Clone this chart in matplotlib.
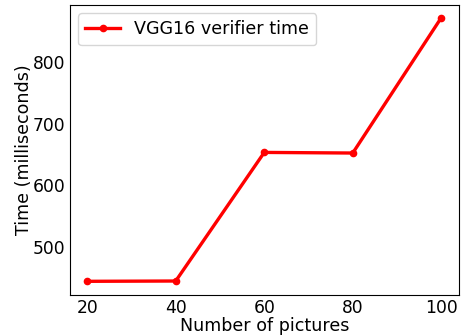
import matplotlib
matplotlib.use("Agg")
import matplotlib.pyplot as plt

pictures = [20, 40, 60, 80, 100]
verifier_time = [443.5, 444, 653.5, 652.5, 873]
series_label = "VGG16 verifier time"

fig = plt.figure(figsize=(4.66, 3.36), dpi=100)
ax = fig.add_axes([69.5/466, 1 - 294.5/336, (459-69.5)/466, (294.5-4.5)/336])
ax.plot(pictures, verifier_time, color="red", linewidth=2.4, marker="o", markersize=4.5, label=series_label)
ax.set_xticks(pictures)
ax.set_yticks([500, 600, 700, 800])
ax.tick_params(axis="both", labelsize=12.3, length=0, pad=3)
ax.set_xlabel("Number of pictures", fontsize=12.6, labelpad=0)
ax.set_ylabel("Time (milliseconds)", fontsize=12.6, labelpad=0)
ax.legend(loc="upper left", fontsize=12.6)
fig.savefig("out.png", dpi=100)
